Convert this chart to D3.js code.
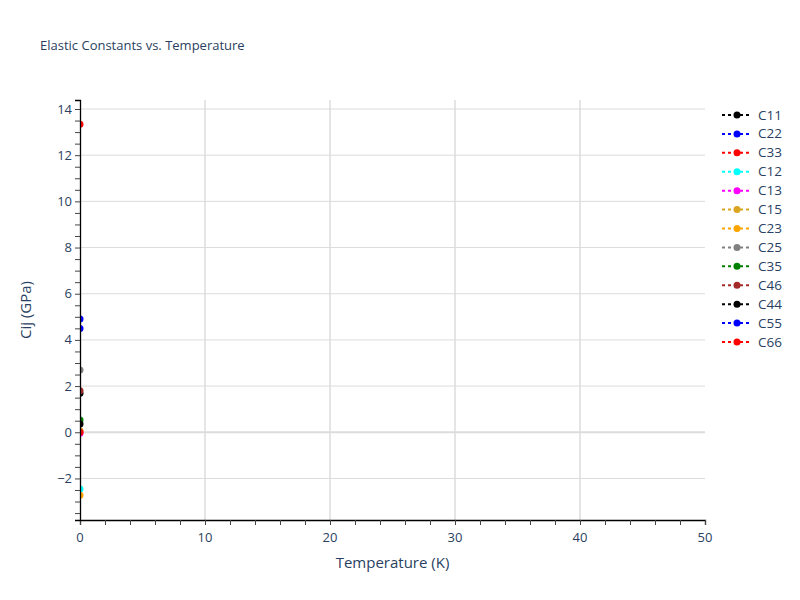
<!DOCTYPE html>
<html>
<head>
<meta charset="utf-8">
<script src="https://cdn.jsdelivr.net/npm/d3@7"></script>
<style>
  body { margin: 0; background: #fff; }
  text { font-family: "Open Sans", sans-serif; fill: #2a3f5f; }
</style>
</head>
<body>
<svg id="chart" width="800" height="600"></svg>
<script>
// data (one temperature point per constant)
const temperatures = [0];
const names  = ["C11", "C22", "C33", "C12", "C13", "C15", "C23", "C25", "C35", "C46", "C44", "C55", "C66"];
const colors = ["black", "blue", "red", "cyan", "magenta", "goldenrod", "orange", "gray", "green", "brown", "black", "blue", "red"];
const values = [[1.69], [4.49], [13.34], [-2.46], [-0.04], [0.06], [-2.73], [2.70], [0.53], [1.80], [0.36], [4.91], [0.0]];
const xTicks = [0, 10, 20, 30, 40, 50];
const yTicks = [-2, 0, 2, 4, 6, 8, 10, 12, 14];

const mLeft = 80, mRight = 705, mTop = 100, mBottom = 520;
const svg = d3.select("#chart");

const x = d3.scaleLinear().domain([0, 50]).range([mLeft, mRight]);
const y = d3.scaleLinear().domain([-3.8, 14.39]).range([mBottom, mTop]);
const fmt = v => (v < 0 ? "\u2212" + Math.abs(v) : "" + v);

svg.append("text")
  .attr("x", 40).attr("y", 50)
  .style("font-size", "13px")
  .text("Elastic Constants vs. Temperature");

// grid
const grid = svg.append("g");
grid.selectAll("line.gx").data(xTicks.filter(t => t > 0 && t < 50)).enter()
  .append("line").attr("class", "gx")
  .attr("x1", d => x(d)).attr("x2", d => x(d))
  .attr("y1", mTop).attr("y2", mBottom)
  .attr("stroke", "#dcdcdc").attr("stroke-width", 1.5);
grid.selectAll("line.gy").data(yTicks).enter()
  .append("line").attr("class", "gy")
  .attr("x1", mLeft).attr("x2", mRight)
  .attr("y1", d => y(d)).attr("y2", d => y(d))
  .attr("stroke", "#dcdcdc")
  .attr("stroke-width", d => d === 0 ? 2 : 1);

// clip for markers
svg.append("clipPath").attr("id", "clip")
  .append("rect").attr("x", mLeft).attr("y", mTop)
  .attr("width", mRight - mLeft).attr("height", mBottom - mTop);

const plot = svg.append("g").attr("clip-path", "url(#clip)");
names.forEach((n, i) => {
  const pts = temperatures.map((t, j) => [t, values[i][j]]);
  plot.append("path")
    .attr("d", d3.line().x(d => x(d[0])).y(d => y(d[1]))(pts))
    .attr("fill", "none").attr("stroke", colors[i])
    .attr("stroke-width", 2).attr("stroke-dasharray", "3,3");
  plot.selectAll(null).data(pts).enter()
    .append("circle")
    .attr("cx", d => x(d[0])).attr("cy", d => y(d[1]))
    .attr("r", 3.5).attr("fill", colors[i]);
});

// axes
const xAxis = svg.append("g").attr("transform", `translate(0,${mBottom})`)
  .call(d3.axisBottom(x).tickValues(d3.range(0, 51, 2)).tickSize(5).tickFormat(""));
xAxis.select(".domain").attr("stroke", "black").attr("stroke-width", 1.3);
xAxis.selectAll(".tick line").attr("stroke", "#444");
svg.append("g").selectAll("text").data(xTicks).enter()
  .append("text")
  .attr("x", d => x(d)).attr("y", mBottom + 22)
  .attr("text-anchor", "middle").style("font-size", "13px")
  .text(fmt);

const yAxis = svg.append("g").attr("transform", `translate(${mLeft},0)`)
  .call(d3.axisLeft(y).tickValues(d3.range(-3.5, 14.01, 0.5)).tickSize(5).tickFormat(""));
yAxis.select(".domain").attr("stroke", "black").attr("stroke-width", 1.3);
yAxis.selectAll(".tick line").attr("stroke", "#444");
svg.append("g").selectAll("text").data(yTicks).enter()
  .append("text")
  .attr("x", mLeft - 8).attr("y", d => y(d) + 4.5)
  .attr("text-anchor", "end").style("font-size", "13px")
  .text(fmt);

svg.append("text")
  .attr("x", (mLeft + mRight) / 2).attr("y", 568)
  .attr("text-anchor", "middle").style("font-size", "15px")
  .text("Temperature (K)");
svg.append("text")
  .attr("transform", `translate(31,${(mTop + mBottom) / 2}) rotate(-90)`)
  .attr("text-anchor", "middle").style("font-size", "15px")
  .text("Cij (GPa)");

// legend
const legend = svg.append("g").attr("transform", "translate(722,115)");
const item = legend.selectAll("g").data(names).enter()
  .append("g").attr("transform", (d, i) => `translate(0,${i * 18.92})`);
item.append("line")
  .attr("x1", 0).attr("x2", 30)
  .attr("stroke", (d, i) => colors[i]).attr("stroke-width", 2)
  .attr("stroke-dasharray", "3,3");
item.append("circle").attr("cx", 15).attr("r", 3.5)
  .attr("fill", (d, i) => colors[i]);
item.append("text").attr("x", 36).attr("y", 4.5)
  .style("font-size", "13.5px").text(d => d);
</script>
</body>
</html>
